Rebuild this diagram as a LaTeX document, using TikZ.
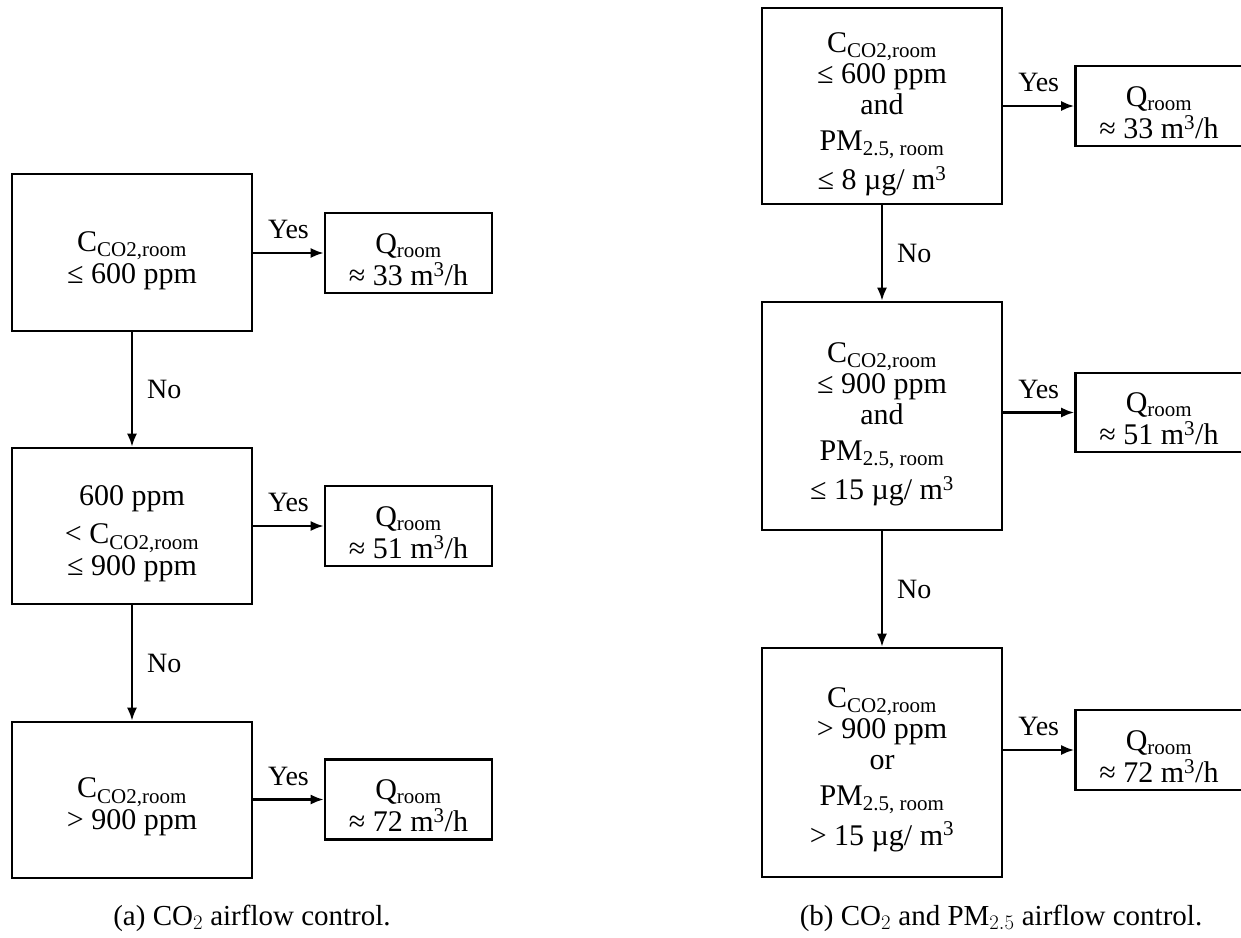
\documentclass[tikz,border=0pt]{standalone}
\usepackage{fontspec}
\setmainfont{Liberation Serif}
\usetikzlibrary{arrows.meta}

\newcommand{\Cco}{C\textsubscript{CO2,room}}
\newcommand{\PMroom}{PM\textsubscript{2.5, room}}
\newcommand{\Qroom}{Q\textsubscript{room}}
% invisible strut that lowers the text a little inside its box
\newcommand{\lift}[1]{\rule{0pt}{#1}}

\tikzset{
  condbox/.style={draw, line width=2.6pt, minimum width=240pt, inner sep=0pt,
    align=center, font=\fontsize{30}{31}\selectfont},
  flowbox/.style={draw, line width=2.6pt, minimum width=167pt, minimum height=80pt,
    inner sep=0pt, align=center, font=\fontsize{30}{32}\selectfont},
  flow/.style={line width=2.2pt, -{Latex[length=13pt,width=10pt]}},
  lbl/.style={font=\fontsize{28}{30}\selectfont, inner sep=2pt},
  caption/.style={font=\fontsize{29}{32}\selectfont, anchor=base},
}

\begin{document}
\begin{tikzpicture}[x=1pt,y=1pt,yscale=-1]
\useasboundingbox (0,0) rectangle (1241,937);

% (a) CO2 airflow control
\node[condbox, minimum height=157pt] (a1) at (132,252.5)
  {\lift{36pt}\Cco\\[1pt]≤ 600 ppm};
\node[condbox, minimum height=156pt] (a2) at (132,526)
  {\lift{36pt}600 ppm\\[7pt]< \Cco\\[1pt]≤ 900 ppm};
\node[condbox, minimum height=156pt] (a3) at (132,800)
  {\lift{34pt}\Cco\\[1pt]> 900 ppm};

\node[flowbox] (qa1) at (408.5,253) {\lift{33pt}\Qroom\\≈ 33 m\textsuperscript{3}/h};
\node[flowbox] (qa2) at (408.5,526) {\lift{33pt}\Qroom\\≈ 51 m\textsuperscript{3}/h};
\node[flowbox] (qa3) at (408.5,799.5) {\lift{33pt}\Qroom\\≈ 72 m\textsuperscript{3}/h};

\draw[flow] (a1.east |- qa1.west) -- node[lbl, above=11pt] {Yes} (qa1.west);
\draw[flow] (a2.east |- qa2.west) -- node[lbl, above=11pt] {Yes} (qa2.west);
\draw[flow] (a3.east |- qa3.west) -- node[lbl, above=11pt] {Yes} (qa3.west);
\draw[flow] (a1) -- node[lbl, right=12pt] {No} (a2);
\draw[flow] (a2) -- node[lbl, right=12pt] {No} (a3);

% (b) CO2 and PM2.5 airflow control
\node[condbox, minimum height=196pt] (b1) at (882,106)
  {\lift{36pt}\Cco\\≤ 600 ppm\\and\\[5pt]\PMroom\\[7pt]≤ 8 µg/ m\textsuperscript{3}};
\node[condbox, minimum height=228pt] (b2) at (882,416)
  {\lift{36pt}\Cco\\≤ 900 ppm\\and\\[5pt]\PMroom\\[7pt]≤ 15 µg/ m\textsuperscript{3}};
\node[condbox, minimum height=229pt] (b3) at (882,762.5)
  {\lift{34pt}\Cco\\> 900 ppm\\or\\[5pt]\PMroom\\[7pt]> 15 µg/ m\textsuperscript{3}};

\node[flowbox] (qb1) at (1159,106) {\lift{33pt}\Qroom\\≈ 33 m\textsuperscript{3}/h};
\node[flowbox, minimum height=79pt] (qb2) at (1159,412.5) {\lift{33pt}\Qroom\\≈ 51 m\textsuperscript{3}/h};
\node[flowbox] (qb3) at (1159,750) {\lift{33pt}\Qroom\\≈ 72 m\textsuperscript{3}/h};

\draw[flow] (b1.east |- qb1.west) -- node[lbl, above=11pt] {Yes} (qb1.west);
\draw[flow] (b2.east |- qb2.west) -- node[lbl, above=11pt] {Yes} (qb2.west);
\draw[flow] (b3.east |- qb3.west) -- node[lbl, above=11pt] {Yes} (qb3.west);
\draw[flow] (b1) -- node[lbl, right=12pt] {No} (b2);
\draw[flow] (b2) -- node[lbl, right=12pt] {No} (b3);

% Captions
\node[caption] (capa) at (252,925) {(a) CO$_2$ airflow control.};
\node[caption] (capb) at (1001,925) {(b) CO$_2$ and PM$_{2.5}$ airflow control.};

\end{tikzpicture}
\end{document}
